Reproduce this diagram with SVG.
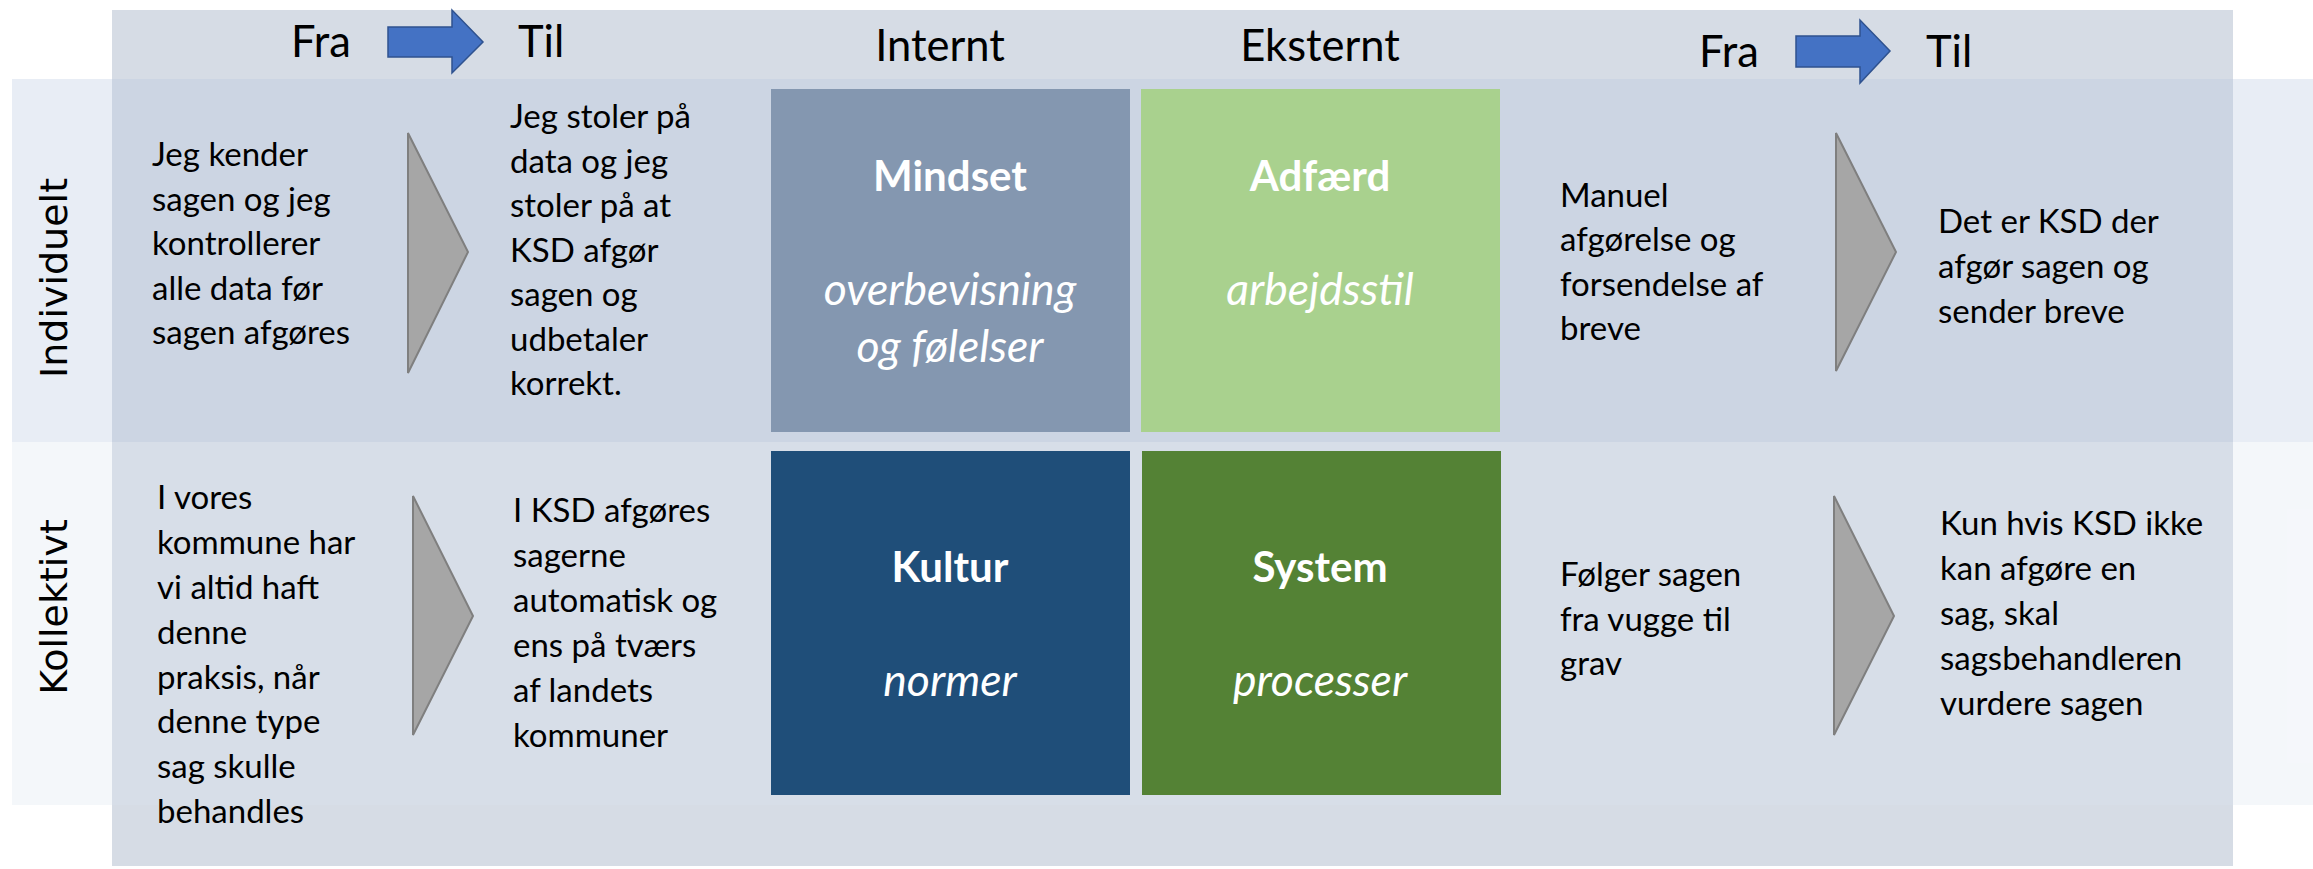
<svg xmlns="http://www.w3.org/2000/svg" width="2313" height="869" viewBox="0 0 2313 869">
<style>
.hdr{font-family:Lato,"Liberation Sans",sans-serif;font-size:43.5px;fill:#000}
.body{font-family:Lato,"Liberation Sans",sans-serif;font-size:33px;fill:#000}
.row{font-family:"DejaVu Sans",Verdana,sans-serif;font-size:38px;fill:#000;text-anchor:middle}
.title{font-family:Lato,"Liberation Sans",sans-serif;font-size:42px;font-weight:bold;fill:#fff;text-anchor:middle}
.sub{font-family:Lato,"Liberation Sans",sans-serif;font-size:44.5px;font-style:italic;fill:#fff;text-anchor:middle}
.chev{fill:#A6A6A6;stroke:#7F7F7F;stroke-width:2}
.barrow{fill:#4472C4;stroke:#2F528F;stroke-width:1.5}
</style>
<rect id="background" x="112" y="10" width="2121" height="856" fill="#D6DCE5"/>
<rect id="band-individuelt" x="12" y="79" width="2301" height="363" fill="#B9C6DF" fill-opacity="0.32"/>
<rect id="band-kollektivt" x="12" y="442" width="2301" height="363" fill="#DCE3F0" fill-opacity="0.3"/>

<g id="header">
<text class="hdr" x="291" y="57">Fra</text>
<text class="hdr" x="518" y="57">Til</text>
<text class="hdr" x="940" y="61" text-anchor="middle">Internt</text>
<text class="hdr" x="1320" y="61" text-anchor="middle">Eksternt</text>
<text class="hdr" x="1699" y="67">Fra</text>
<text class="hdr" x="1926" y="67">Til</text>
</g>

<g id="row-labels">
<text id="lbl-individuelt" class="row" transform="translate(67,278) rotate(-90)">Individuelt</text>
<text id="lbl-kollektivt" class="row" transform="translate(67,607) rotate(-90)">Kollektivt</text>
</g>

<g id="connectors">
<path class="barrow" d="M388,27 H452 V10 L483,42 L452,73 V57 H388 Z"/>
<path class="barrow" d="M1796,36 H1860 V20 L1890,51 L1860,83 V67 H1796 Z"/>
<path class="chev" d="M408,133 L468,252 L408,373 Z"/>
<path class="chev" d="M1836,133 L1896,252 L1836,371 Z"/>
<path class="chev" d="M413,496 L473,616 L413,735 Z"/>
<path class="chev" d="M1834,496 L1894,616 L1834,735 Z"/>
</g>

<g id="ind-fra">
<text class="body" x="152"><tspan x="152" y="166">Jeg kender</tspan><tspan x="152" y="210.5">sagen og jeg</tspan><tspan x="152" y="255">kontrollerer</tspan><tspan x="152" y="299.5">alle data før</tspan><tspan x="152" y="344">sagen afgøres</tspan></text>
</g>
<g id="ind-til">
<text class="body" x="510"><tspan x="510" y="128">Jeg stoler på</tspan><tspan x="510" y="172.5">data og jeg</tspan><tspan x="510" y="217">stoler på at</tspan><tspan x="510" y="261.5">KSD afgør</tspan><tspan x="510" y="306">sagen og</tspan><tspan x="510" y="350.5">udbetaler</tspan><tspan x="510" y="395">korrekt.</tspan></text>
</g>

<g id="mindset">
<rect x="771" y="89" width="359" height="343" fill="#8497B0"/>
<text class="title" x="950" y="191">Mindset</text>
<text class="sub" x="950" y="305">overbevisning</text>
<text class="sub" x="950" y="362">og følelser</text>
</g>
<g id="adfaerd">
<rect x="1141" y="89" width="359" height="343" fill="#A9D18E"/>
<text class="title" x="1320" y="191">Adfærd</text>
<text class="sub" x="1320" y="305">arbejdsstil</text>
</g>
<g id="kultur">
<rect x="771" y="451" width="359" height="344" fill="#1F4E79"/>
<text class="title" x="950" y="582">Kultur</text>
<text class="sub" x="950" y="696">normer</text>
</g>
<g id="system">
<rect x="1142" y="451" width="359" height="344" fill="#548235"/>
<text class="title" x="1320" y="582">System</text>
<text class="sub" x="1320" y="696">processer</text>
</g>

<g id="ind-ext-fra">
<text class="body"><tspan x="1560" y="207">Manuel</tspan><tspan x="1560" y="251">afgørelse og</tspan><tspan x="1560" y="295.5">forsendelse af</tspan><tspan x="1560" y="340">breve</tspan></text>
</g>
<g id="ind-ext-til">
<text class="body"><tspan x="1938" y="233">Det er KSD der</tspan><tspan x="1938" y="278">afgør sagen og</tspan><tspan x="1938" y="323">sender breve</tspan></text>
</g>

<g id="kol-fra">
<text class="body"><tspan x="157" y="509">I vores</tspan><tspan x="157" y="554">kommune har</tspan><tspan x="157" y="599">vi altid haft</tspan><tspan x="157" y="644">denne</tspan><tspan x="157" y="689">praksis, når</tspan><tspan x="157" y="733">denne type</tspan><tspan x="157" y="778">sag skulle</tspan><tspan x="157" y="823">behandles</tspan></text>
</g>
<g id="kol-til">
<text class="body"><tspan x="513" y="522">I KSD afgøres</tspan><tspan x="513" y="567">sagerne</tspan><tspan x="513" y="612">automatisk og</tspan><tspan x="513" y="657">ens på tværs</tspan><tspan x="513" y="702">af landets</tspan><tspan x="513" y="747">kommuner</tspan></text>
</g>
<g id="kol-ext-fra">
<text class="body"><tspan x="1560" y="586">Følger sagen</tspan><tspan x="1560" y="631">fra vugge til</tspan><tspan x="1560" y="675">grav</tspan></text>
</g>
<g id="kol-ext-til">
<text class="body"><tspan x="1940" y="535">Kun hvis KSD ikke</tspan><tspan x="1940" y="580">kan afgøre en</tspan><tspan x="1940" y="625">sag, skal</tspan><tspan x="1940" y="670">sagsbehandleren</tspan><tspan x="1940" y="715">vurdere sagen</tspan></text>
</g>
</svg>
